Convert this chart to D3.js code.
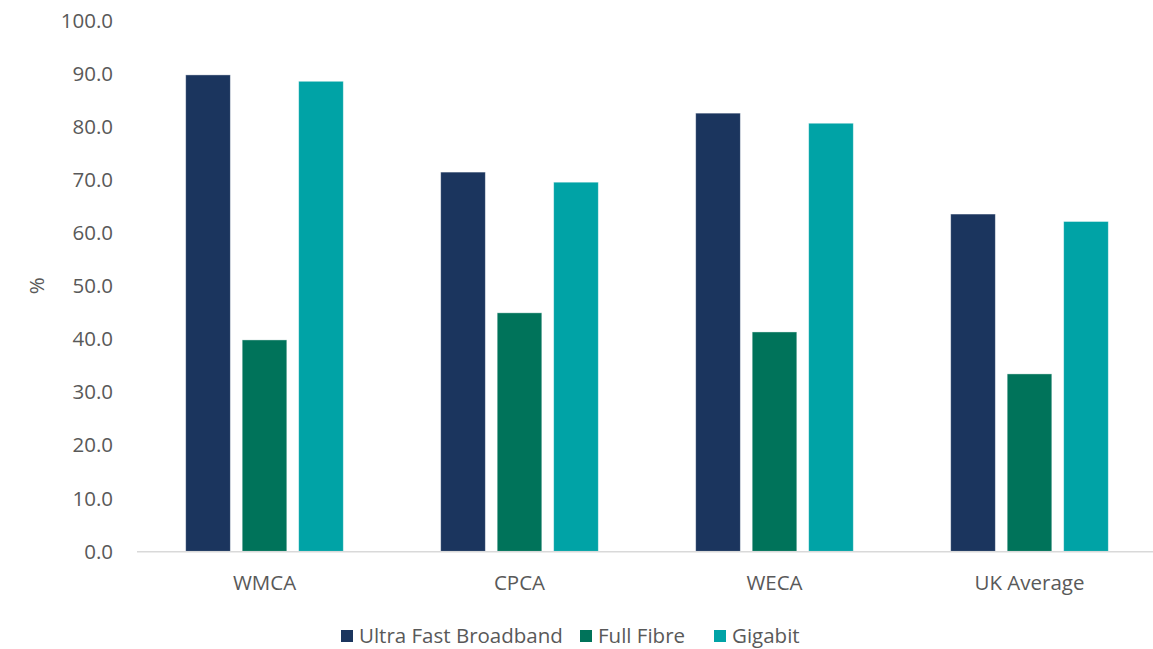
<!DOCTYPE html>
<html>
<head>
<meta charset="utf-8">
<script src="https://cdn.jsdelivr.net/npm/d3@7"></script>
<style>
  body { margin: 0; background: #fff; }
  text { font-family: "Open Sans", Lato, sans-serif; fill: #595959; }
</style>
</head>
<body>
<script>
'use strict';

const categories = ['WMCA', 'CPCA', 'WECA', 'UK Average'];
const seriesNames = ['Ultra Fast Broadband', 'Full Fibre', 'Gigabit'];
const ultraFast = [89.7, 71.4, 82.5, 63.5];
const fullFibre = [39.8, 44.9, 41.3, 33.4];
const gigabit = [88.5, 69.5, 80.6, 62.1];
const seriesColors = ['#1b355e', '#00735a', '#00a3a6'];
const yTicks = [0, 10, 20, 30, 40, 50, 60, 70, 80, 90, 100];

const width = 1153;
const height = 649;
const fontSize = '20.5px';
const values = [ultraFast, fullFibre, gigabit];

const svg = d3.select('body').append('svg')
  .attr('width', width)
  .attr('height', height);

const x0 = d3.scaleBand()
  .domain(categories)
  .range([137, 1157])
  .paddingInner(0.382)
  .paddingOuter(0.191);

const x1 = d3.scaleBand()
  .domain(seriesNames)
  .range([0, x0.bandwidth()])
  .paddingInner(0.21)
  .paddingOuter(0);

const y = d3.scaleLinear().domain([0, 100]).range([551.3, 20.2]);

// y tick labels
svg.append('g')
  .selectAll('text')
  .data(yTicks)
  .enter().append('text')
  .attr('x', 113)
  .attr('y', function(d) { return y(d); })
  .attr('dy', '0.36em')
  .attr('text-anchor', 'end')
  .style('font-size', fontSize)
  .text(function(d) { return d3.format('.1f')(d); });

// axis title
svg.append('text')
  .attr('transform', 'translate(44,' + y(50) + ') rotate(-90)')
  .attr('text-anchor', 'middle')
  .style('font-size', fontSize)
  .text('%');

// bars
const groups = svg.append('g')
  .selectAll('g')
  .data(categories)
  .enter().append('g')
  .attr('transform', function(d) { return 'translate(' + x0(d) + ',0)'; });

groups.selectAll('rect')
  .data(function(d, i) {
    return seriesNames.map(function(s, j) { return { series: s, value: values[j][i], color: seriesColors[j] }; });
  })
  .enter().append('rect')
  .attr('x', function(d) { return x1(d.series); })
  .attr('y', function(d) { return y(d.value); })
  .attr('width', x1.bandwidth())
  .attr('height', function(d) { return y(0) - y(d.value); })
  .attr('fill', function(d) { return d.color; })
  .attr('stroke', '#ffffff')
  .attr('stroke-opacity', 0.5)
  .attr('stroke-width', 0.8);

// x axis line
svg.append('line')
  .attr('x1', 137)
  .attr('x2', width)
  .attr('y1', y(0) + 0.5)
  .attr('y2', y(0) + 0.5)
  .attr('stroke', '#d9d9d9')
  .attr('stroke-width', 1.5);

// category labels
svg.append('g')
  .selectAll('text')
  .data(categories)
  .enter().append('text')
  .attr('x', function(d) { return x0(d) + x0.bandwidth() / 2; })
  .attr('y', 590)
  .attr('text-anchor', 'middle')
  .style('font-size', fontSize)
  .text(function(d) { return d; });

// legend
const legendX = [341, 580, 714];
const legend = svg.append('g')
  .selectAll('g')
  .data(seriesNames)
  .enter().append('g')
  .attr('transform', function(d, i) { return 'translate(' + legendX[i] + ',630)'; });

legend.append('rect')
  .attr('width', 12)
  .attr('height', 12)
  .attr('fill', function(d, i) { return seriesColors[i]; });

legend.append('text')
  .attr('x', 18)
  .attr('y', 6)
  .attr('dy', '0.36em')
  .style('font-size', fontSize)
  .text(function(d) { return d; });
</script>
</body>
</html>
